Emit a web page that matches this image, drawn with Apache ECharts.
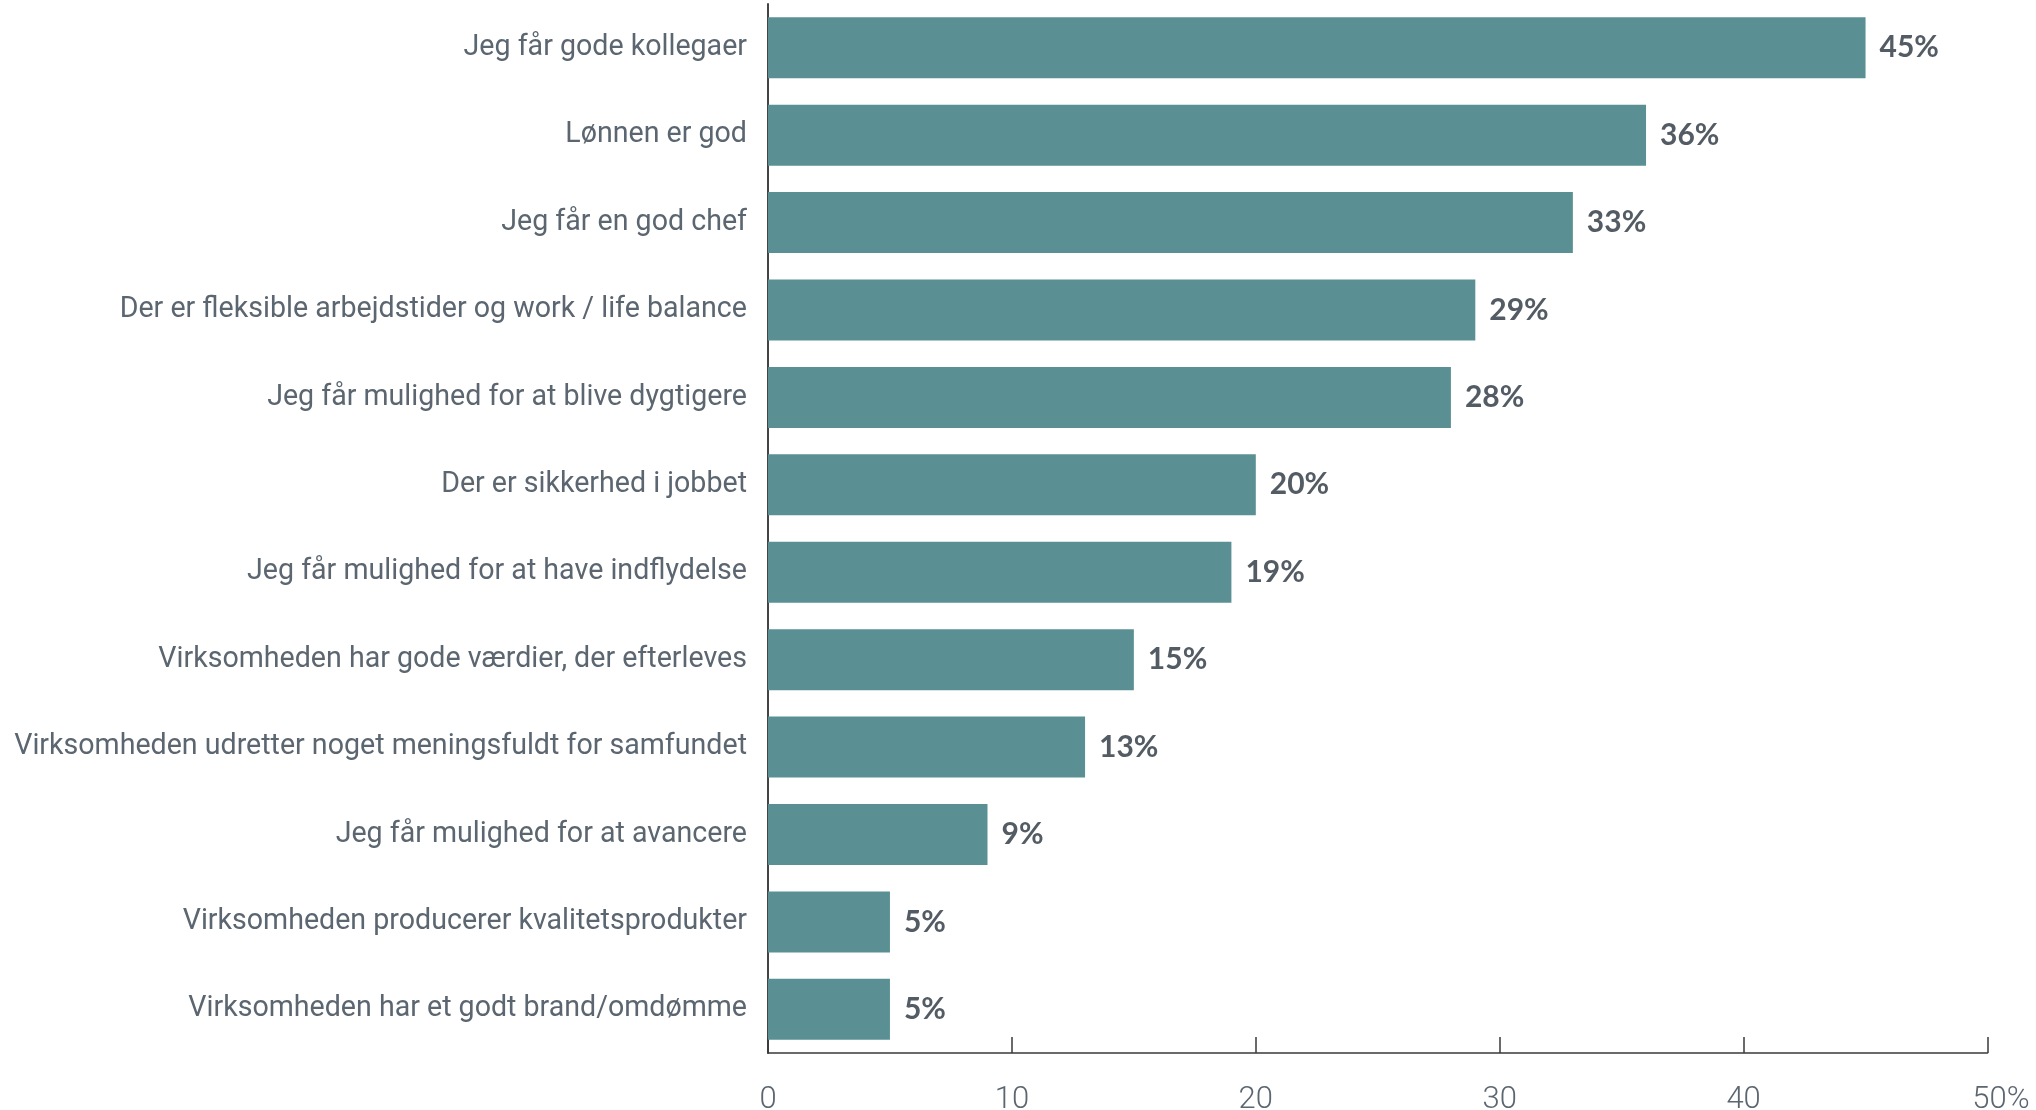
<!DOCTYPE html>
<html>
<head>
<meta charset="utf-8">
<script src="https://cdn.jsdelivr.net/npm/echarts@6/dist/echarts.min.js"></script>
<style>
  html, body { margin: 0; padding: 0; background: #ffffff; }
  #chart { width: 2036px; height: 1110px; }
</style>
</head>
<body>
<div id="chart"></div>
<script>
// Reasons given, top to bottom
const categories = [
  'Jeg får gode kollegaer',
  'Lønnen er god',
  'Jeg får en god chef',
  'Der er fleksible arbejdstider og work / life balance',
  'Jeg får mulighed for at blive dygtigere',
  'Der er sikkerhed i jobbet',
  'Jeg får mulighed for at have indflydelse',
  'Virksomheden har gode værdier, der efterleves',
  'Virksomheden udretter noget meningsfuldt for samfundet',
  'Jeg får mulighed for at avancere',
  'Virksomheden producerer kvalitetsprodukter',
  'Virksomheden har et godt brand/omdømme'
];
// Share of respondents, percent
const shares = [45, 36, 33, 29, 28, 20, 19, 15, 13, 9, 5, 5];
const axisTicks = [0, 10, 20, 30, 40, 50];

const chart = echarts.init(document.getElementById('chart'), null, { renderer: 'canvas' });

chart.setOption({
  animation: false,
  backgroundColor: '#ffffff',
  grid: {
    left: 768, right: 48.5, top: 4, bottom: 57,
    containLabel: false,
    outerBoundsMode: 'none'
  },
  xAxis: {
    type: 'value',
    min: axisTicks[0],
    max: axisTicks[axisTicks.length - 1],
    interval: 10,
    splitLine: { show: false },
    axisLine: { show: true, lineStyle: { color: '#3a3a3a', width: 1.5 } },
    axisTick: {
      show: true, inside: true, length: 16,
      lineStyle: { color: '#3a3a3a', width: 1.5 }
    },
    axisLabel: {
      margin: 32,
      color: '#5b6670',
      fontFamily: 'Roboto',
      fontWeight: 300,
      fontSize: 31,
      formatter: function (v) {
        return v === axisTicks[axisTicks.length - 1] ? '{e|' + v + '%}' : String(v);
      },
      rich: {
        e: { fontFamily: 'Roboto', fontWeight: 300, fontSize: 31, color: '#5b6670', padding: [0, 0, 0, 27] }
      }
    }
  },
  yAxis: {
    type: 'category',
    data: categories,
    inverse: true,
    axisLine: { show: true, lineStyle: { color: '#444444', width: 2 } },
    axisTick: { show: false },
    axisLabel: {
      margin: 21,
      color: '#5b6670',
      fontFamily: 'Roboto',
      fontSize: 28.6
    }
  },
  series: [{
    type: 'bar',
    data: shares,
    barWidth: 61,
    itemStyle: { color: '#5a9093' },
    label: {
      show: true,
      position: 'right',
      distance: 14,
      formatter: '{c}%',
      color: '#535c64',
      fontFamily: 'Lato',
      fontWeight: 'bold',
      fontSize: 30
    }
  }]
});
</script>
</body>
</html>
